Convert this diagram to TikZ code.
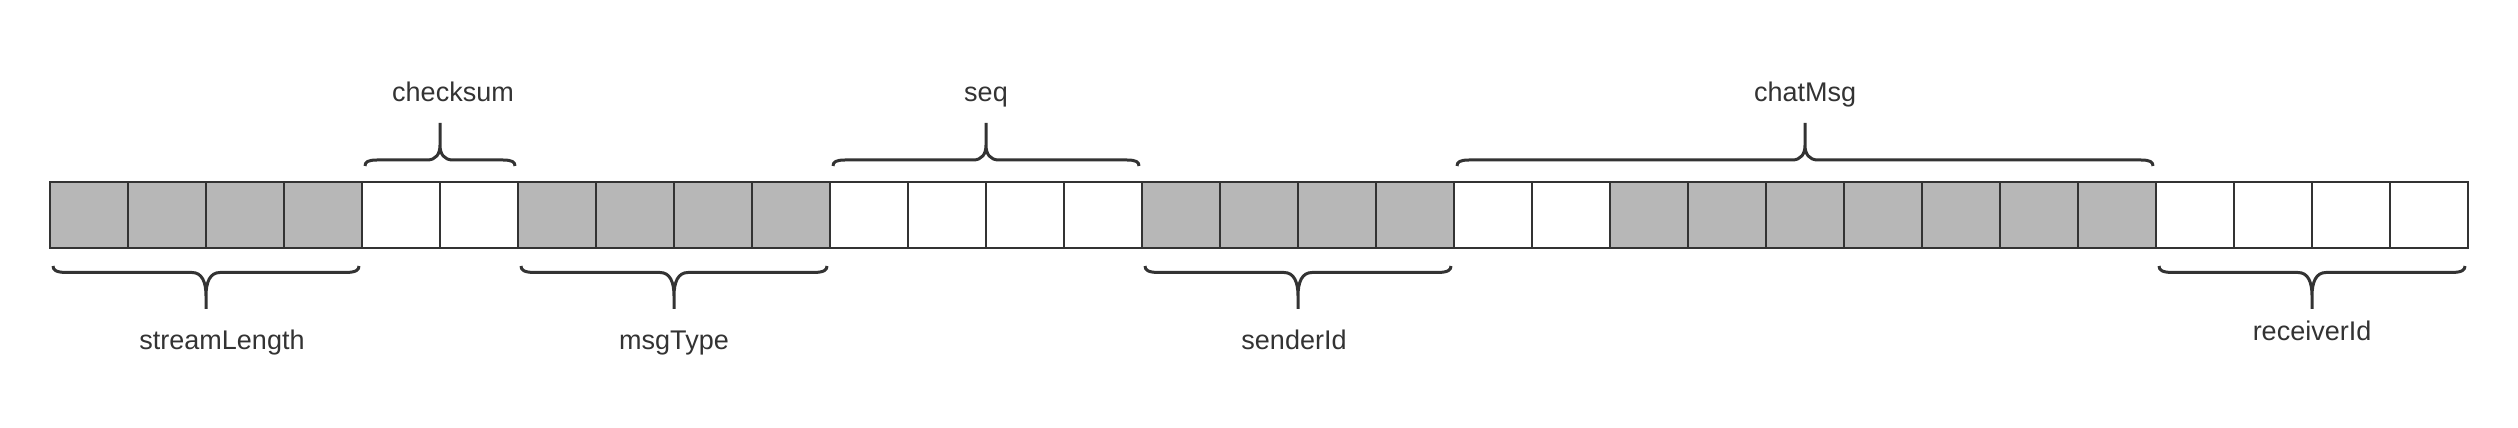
\documentclass[tikz,border=0pt]{standalone}
\usepackage{fontspec}
\setmainfont{Liberation Sans}
\usetikzlibrary{calc}
\definecolor{linegray}{HTML}{333333}
\definecolor{cellgray}{HTML}{B7B7B7}
\tikzset{
  cell/.style={draw=linegray, line width=2pt, minimum width=78pt, minimum height=66pt, inner sep=0pt, outer sep=0pt},
  fullcell/.style={cell, fill=cellgray},
  brace/.style={draw=linegray, line width=3pt, line join=round},
  lbl/.style={text=linegray, font=\fontsize{27}{32}\selectfont, inner sep=0pt, anchor=base}
}
\begin{document}
\begin{tikzpicture}[x=1pt,y=1pt]
\useasboundingbox (0,0) rectangle (2518,428);

% bytes of the frame
\foreach \i in {4,5,10,11,12,13,18,19,27,28,29,30}
  \node[cell] (c\i) at (89+78*\i,213) {};
\foreach \i in {0,1,2,3,6,7,8,9,14,15,16,17,20,21,...,26}
  \node[fullcell] (c\i) at (89+78*\i,213) {};

% fields above the frame
\foreach \a/\b/\txt/\dx in {4/5/checksum/13, 10/13/seq/0, 18/26/chatMsg/0}{
  \draw[brace] let \p1=([xshift=3pt,yshift=16pt]c\a.north west),
                   \p2=([xshift=-3pt,yshift=16pt]c\b.north east),
                   \p3=($(\p1)!.5!(\p2)$) in
    (\p1) .. controls (\x1,\y1+4) and (\x1+3,\y1+6) .. (\x1+12,\y1+6)
    -- (\x3-13,\y3+6) .. controls (\x3-4,\y3+6) and (\x3,\y3+12) .. (\x3,\y3+21)
    -- (\x3,\y3+43) coordinate (t\a)
    (\x3,\y3+21) .. controls (\x3,\y3+12) and (\x3+4,\y3+6) .. (\x3+13,\y3+6)
    -- (\x2-12,\y2+6) .. controls (\x2-3,\y2+6) and (\x2,\y2+4) .. (\p2);
  \node[lbl] (\txt) at ([xshift=\dx pt,yshift=21pt]t\a) {\txt};
}

% fields below the frame
\foreach \a/\b/\txt/\dx/\dy in {0/3/streamLength/16/41, 6/9/msgType/0/41, 14/17/senderId/-4/41, 27/30/receiverId/0/32}{
  \draw[brace] let \p1=([xshift=3pt,yshift=-18pt]c\a.south west),
                   \p2=([xshift=-3pt,yshift=-18pt]c\b.south east),
                   \p3=($(\p1)!.5!(\p2)$) in
    (\p1) .. controls (\x1,\y1-4) and (\x1+3,\y1-6.5) .. (\x1+14,\y1-6.5)
    -- (\x3-14,\y3-6.5) .. controls (\x3-4,\y3-6.5) and (\x3,\y3-16) .. (\x3,\y3-30)
    -- (\x3,\y3-43) coordinate (t\a)
    (\x3,\y3-30) .. controls (\x3,\y3-16) and (\x3+4,\y3-6.5) .. (\x3+14,\y3-6.5)
    -- (\x2-14,\y2-6.5) .. controls (\x2-3,\y2-6.5) and (\x2,\y2-4) .. (\p2);
  \node[lbl] (\txt) at ([xshift=\dx pt,yshift=-\dy pt]t\a) {\txt};
}

\end{tikzpicture}
\end{document}
